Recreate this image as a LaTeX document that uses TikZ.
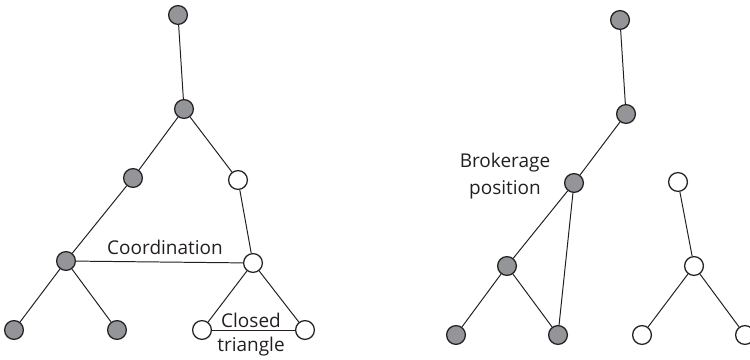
\documentclass[tikz,border=0pt]{standalone}
\usepackage{fontspec}
\setmainfont{Open Sans}
\usepackage{tikz}
\definecolor{ink}{RGB}{35,31,32}
\definecolor{actor}{RGB}{147,149,152}
\usetikzlibrary{positioning}
\tikzset{%
  vertex/.style={draw=ink, circle, line width=0.9pt, minimum size=0.47cm, inner sep=0pt},
  inside/.style={vertex, fill=actor},% grey actor
  outside/.style={vertex, fill=white},% white actor
  tie/.style={draw=ink, line width=0.7pt},% tie between actors
  label/.style={text=ink, font=\fontsize{13.5}{14}\selectfont}
}

\begin{document}
\begin{tikzpicture}[x=0.025cm, y=-0.025cm]
\useasboundingbox (0,0) rectangle (750,360);

% left network
\node[inside] (a1) at (178, 15) {};
\node[inside] (a2) at (184, 109) {};
\node[inside] (a3) at (133, 178) {};
\node[outside] (a4) at (238, 180) {};
\node[inside] (a5) at (66, 261) {};
\node[outside] (a6) at (253, 263) {};
\node[inside] (a7) at (14, 330) {};
\node[inside] (a8) at (117, 330) {};
\node[outside] (a9) at (202, 330) {};
\node[outside] (a10) at (305, 330) {};

\draw[tie] (a1) -- (a2);
\draw[tie] (a2) -- (a3);
\draw[tie] (a2) -- (a4);
\draw[tie] (a3) -- (a5);
\draw[tie] (a4) -- (a6);
\draw[tie] (a5) -- (a7);
\draw[tie] (a5) -- (a8);
\draw[tie] (a5) -- (a6);
\draw[tie] (a6) -- (a9);
\draw[tie] (a6) -- (a10);
\draw[tie] (a9) -- (a10);

\node[label] (coord) at (165, 247) {Coordination};
\node[label] (closed) at (251, 320) {Closed};
\node[label] (tri) at (251, 347) {triangle};

% right network
\node[inside] (b1) at (620, 20) {};
\node[inside] (b2) at (626, 114) {};
\node[inside] (b3) at (574, 183) {};
\node[inside] (b4) at (507, 266) {};
\node[inside] (b5) at (456, 335) {};
\node[inside] (b6) at (558, 335) {};

\draw[tie] (b1) -- (b2);
\draw[tie] (b2) -- (b3);
\draw[tie] (b3) -- (b4);
\draw[tie] (b3) -- (b6);
\draw[tie] (b4) -- (b5);
\draw[tie] (b4) -- (b6);

\node[label] (broker) at (505, 163) {Brokerage};
\node[label] (pos) at (505, 190) {position};

% isolated component
\node[outside] (c1) at (678, 182) {};
\node[outside] (c2) at (694, 266) {};
\node[outside] (c3) at (642, 335) {};
\node[outside] (c4) at (745, 335) {};

\draw[tie] (c1) -- (c2);
\draw[tie] (c2) -- (c3);
\draw[tie] (c2) -- (c4);

\end{tikzpicture}
\end{document}
